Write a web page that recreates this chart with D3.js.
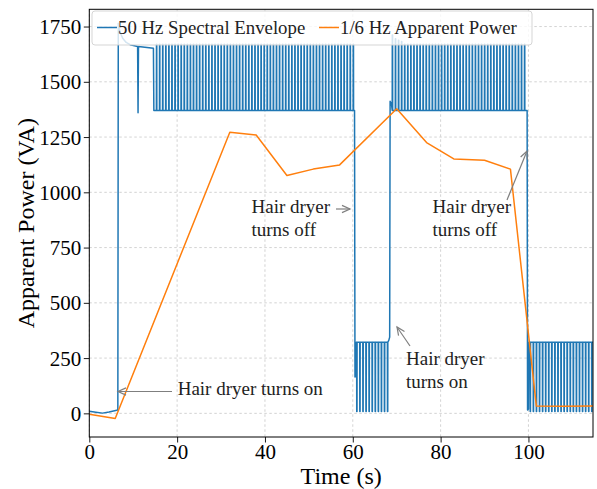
<!DOCTYPE html>
<html lang="en">
<head>
<meta charset="UTF-8">
<title>Hair dryer apparent power</title>
<script src="https://d3js.org/d3.v7.min.js"></script>
<style>
  body { margin: 0; background: #fff; }
  svg { font-family: "Liberation Serif", "DejaVu Serif", serif; }
  .grid line { stroke: #c8c8c8; stroke-dasharray: 2.5,2.5; stroke-width: 0.8; }
</style>
</head>
<body>
<div id="chart"></div>
<script>
// ---- data ----
const xTicks = [0, 20, 40, 60, 80, 100];
const yTicks = [0, 250, 500, 750, 1000, 1250, 1500, 1750];

// 1/6 Hz apparent power [time s, VA]
const slowPower = [[0, -4], [5.9, -23], [32, 1272], [38, 1259], [45, 1076], [51, 1105],
  [57, 1124], [70, 1378], [76.8, 1225], [83, 1151], [90, 1145], [95.9, 1105],
  [101.8, 33], [108, 32], [114.7, 33]];

// 50 Hz envelope: plain stretches between the switching ripples
const envStart = [[0, 9], [1.5, 5], [3, 1], [4.5, 6], [6, 13], [6.5, 15], [6.6, 1765],
  [7, 1725], [7.6, 1697], [8.4, 1678], [9.3, 1668], [11, 1660], [11.1, 1360],
  [11.2, 1660], [14.6, 1652], [14.7, 1370]];
const envOff1 = [[60.4, 1370], [60.5, 165], [60.7, 168], [60.8, 322]];
const envOn2 = [[68.2, 330], [68.4, 345], [68.5, 1412], [68.8, 1400]];
const envOff2 = [[99.7, 1370], [99.8, 15], [100.0, 20], [100.1, 322]];
const envEnd = [[114.7, 322]];

// ripple spike times (s) and levels
const spikesA = [15.3, 16.0, 16.7, 17.4, 18.1, 18.8, 19.5, 20.2, 20.9, 21.6, 22.3, 23.0,
  23.7, 24.4, 25.1, 25.8, 26.5, 27.2, 27.9, 28.6, 29.3, 30.0, 30.7, 31.4, 32.1, 32.8,
  33.5, 34.2, 34.9, 35.6, 36.3, 37.0, 37.7, 38.4, 39.1, 39.8, 40.5, 41.2, 41.9, 42.6,
  43.3, 44.0, 44.7, 45.4, 46.1, 46.8, 47.5, 48.2, 48.9, 49.6, 50.3, 51.0, 51.7, 52.4,
  53.1, 53.8, 54.5, 55.2, 55.9, 56.6, 57.3, 58.0, 58.7, 59.4, 60.1];
const spikesB = [60.9, 61.6, 62.3, 63.0, 63.7, 64.4, 65.1, 65.8, 66.5, 67.2, 67.9];
const spikesC = [69.0, 69.7, 70.4, 71.1, 71.8, 72.5, 73.2, 73.9, 74.6, 75.3, 76.0, 76.7,
  77.4, 78.1, 78.8, 79.5, 80.2, 80.9, 81.6, 82.3, 83.0, 83.7, 84.4, 85.1, 85.8, 86.5,
  87.2, 87.9, 88.6, 89.3, 90.0, 90.7, 91.4, 92.1, 92.8, 93.5, 94.2, 94.9, 95.6, 96.3,
  97.0, 97.7, 98.4, 99.1];
const spikesD = [100.4, 101.1, 101.8, 102.5, 103.2, 103.9, 104.6, 105.3, 106.0, 106.7,
  107.4, 108.1, 108.8, 109.5, 110.2, 110.9, 111.6, 112.3, 113.0, 113.7, 114.4];
const highBase = 1370, highPeak = 1670;
const onsetPeaksC = [1712, 1695, 1688, 1682];
const lowBase = 322, lowDip = 8;

const annotations = [
  { lines: ["Hair dryer turns on"], tx: 177.7, ty: 395, from: [172, 391.5], to: [118, 391.5] },
  { lines: ["Hair dryer", "turns off"], tx: 251.5, ty: 213, from: [336, 209], to: [350, 209] },
  { lines: ["Hair dryer", "turns on"], tx: 406, ty: 365, from: [410, 346], to: [397, 327] },
  { lines: ["Hair dryer", "turns off"], tx: 432.5, ty: 213, from: [507, 200], to: [527, 151] }
];

// ---- build the envelope polyline ----
function ripple(times, base, level, peaks) {
  const pts = [];
  times.forEach((t, i) => {
    const p = peaks && peaks[i] !== undefined ? peaks[i] : level;
    pts.push([t - 0.02, base], [t, p], [t + 0.06, p], [t + 0.08, base]);
  });
  return pts;
}
const envelope = [].concat(
  envStart,
  ripple(spikesA, highBase, highPeak),
  envOff1,
  ripple(spikesB, lowBase, lowDip),
  envOn2,
  ripple(spikesC, highBase, highPeak, onsetPeaksC),
  envOff2,
  ripple(spikesD, lowBase, lowDip),
  envEnd
);

// ---- chart ----
const width = 597, height = 489;
const mLeft = 89.3, mRight = 593, mTop = 9.3, mBottom = 437;

const svg = d3.select("#chart").append("svg")
  .attr("width", width).attr("height", height);

const x = d3.scaleLinear().domain([0, 114.7]).range([mLeft, mRight]);
const y = d3.scaleLinear().domain([-107, 1828]).range([mBottom, mTop]);

const defs = svg.append("defs");
defs.append("clipPath").attr("id", "plot")
  .append("rect").attr("x", mLeft).attr("y", mTop)
  .attr("width", mRight - mLeft).attr("height", mBottom - mTop);

const arrow = defs.append("marker")
  .attr("id", "head").attr("markerUnits", "userSpaceOnUse")
  .attr("viewBox", "-10 -5 12 10").attr("refX", 0).attr("refY", 0)
  .attr("markerWidth", 12).attr("markerHeight", 10).attr("orient", "auto");
arrow.append("path").attr("d", "M-8,-3.6 L0,0 L-8,3.6")
  .attr("fill", "none").attr("stroke", "#7f7f7f").attr("stroke-width", 1.2);

// grid
const grid = svg.append("g").attr("class", "grid");
grid.selectAll(".gx").data(xTicks).enter().append("line")
  .attr("x1", d => x(d)).attr("x2", d => x(d)).attr("y1", mTop).attr("y2", mBottom);
grid.selectAll(".gy").data(yTicks).enter().append("line")
  .attr("x1", mLeft).attr("x2", mRight).attr("y1", d => y(d)).attr("y2", d => y(d));

// lines
const line = d3.line().x(d => x(d[0])).y(d => y(d[1]));
const plot = svg.append("g").attr("clip-path", "url(#plot)");
plot.append("path").datum(envelope)
  .attr("d", line).attr("fill", "none")
  .attr("stroke", "#1f77b4").attr("stroke-width", 1.5).attr("stroke-linejoin", "round");
plot.append("path").datum(slowPower)
  .attr("d", line).attr("fill", "none")
  .attr("stroke", "#ff7f0e").attr("stroke-width", 1.5).attr("stroke-linejoin", "round");

// axes
const xAxis = svg.append("g").attr("transform", `translate(0,${mBottom})`)
  .call(d3.axisBottom(x).tickValues(xTicks).tickFormat(d3.format("d"))
    .tickSize(5.5).tickSizeOuter(0).tickPadding(2));
xAxis.selectAll("text").attr("dy", null).attr("y", 22)
  .style("font-size", "21px").style("font-family", "Liberation Serif, serif").attr("fill", "#000");

const yAxis = svg.append("g").attr("transform", `translate(${mLeft},0)`)
  .call(d3.axisLeft(y).tickValues(yTicks).tickFormat(d3.format("d"))
    .tickSize(5.5).tickSizeOuter(0).tickPadding(2.5));
yAxis.selectAll("text").attr("dy", "0.34em")
  .style("font-size", "21px").style("font-family", "Liberation Serif, serif").attr("fill", "#000");
[xAxis, yAxis].forEach(a => {
  a.select(".domain").remove();
  a.selectAll("line").attr("stroke", "#000").attr("stroke-width", 0.9);
});

// frame
svg.append("rect").attr("x", mLeft).attr("y", mTop)
  .attr("width", mRight - mLeft).attr("height", mBottom - mTop)
  .attr("fill", "none").attr("stroke", "#000").attr("stroke-width", 1);

// axis labels
svg.append("text").attr("x", (mLeft + mRight) / 2).attr("y", 484)
  .attr("text-anchor", "middle").style("font-size", "24px").text("Time (s)");
svg.append("text").attr("transform", `translate(33.5,${(mTop + mBottom) / 2}) rotate(-90)`)
  .attr("text-anchor", "middle").style("font-size", "24px").text("Apparent Power (VA)");

// annotations
annotations.forEach(a => {
  svg.append("line")
    .attr("x1", a.from[0]).attr("y1", a.from[1]).attr("x2", a.to[0]).attr("y2", a.to[1])
    .attr("stroke", "#7f7f7f").attr("stroke-width", 1.2).attr("marker-end", "url(#head)");
  const t = svg.append("text").attr("x", a.tx).attr("y", a.ty)
    .style("font-size", "19px").attr("fill", "#222");
  a.lines.forEach((s, i) => {
    t.append("tspan").attr("x", a.tx).attr("dy", i === 0 ? 0 : 22.5).text(s);
  });
});

// legend
const legend = svg.append("g");
legend.append("rect").attr("x", 92).attr("y", 11).attr("width", 440).attr("height", 34)
  .attr("rx", 3).attr("fill", "#fff").attr("fill-opacity", 0.8)
  .attr("stroke", "#d0d0d0").attr("stroke-width", 0.9);
const legendItems = [
  { label: "50 Hz Spectral Envelope", color: "#1f77b4", x0: 97 },
  { label: "1/6 Hz Apparent Power", color: "#ff7f0e", x0: 319 }
];
legendItems.forEach(d => {
  legend.append("line").attr("x1", d.x0).attr("x2", d.x0 + 20).attr("y1", 27.5).attr("y2", 27.5)
    .attr("stroke", d.color).attr("stroke-width", 1.5);
  legend.append("text").attr("x", d.x0 + 21).attr("y", 34)
    .style("font-size", "18.8px").attr("fill", "#222").text(d.label);
});
</script>
</body>
</html>
